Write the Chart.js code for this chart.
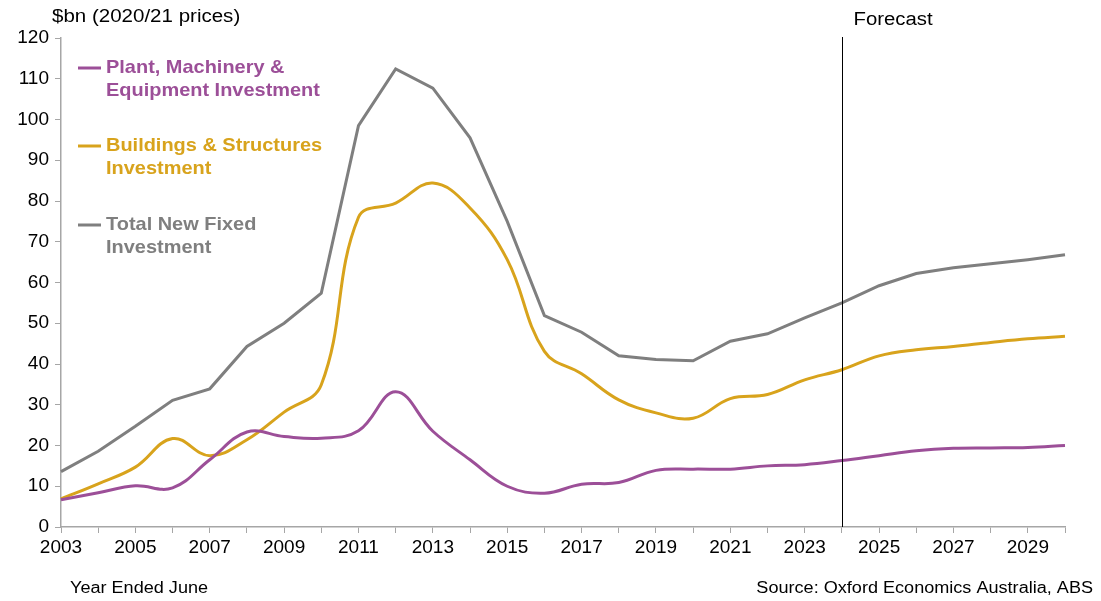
<!DOCTYPE html>
<html>
<head>
<meta charset="utf-8">
<script src="https://cdn.jsdelivr.net/npm/chart.js@4.4.1/dist/chart.umd.min.js"></script>
<style>
  html, body { margin: 0; padding: 0; background: #fff; }
  #wrap { width: 1101px; height: 601px; position: relative; }
</style>
</head>
<body>
<div id="wrap"><canvas id="chart"></canvas></div>
<script>
    const years = ['2003', '2004', '2005', '2006', '2007', '2008', '2009', '2010', '2011', '2012',
        '2013', '2014', '2015', '2016', '2017', '2018', '2019', '2020', '2021', '2022',
        '2023', '2024', '2025', '2026', '2027', '2028', '2029', '2030'];
    const plantValues = [6.7, 8.4, 10.1, 9.6, 16.5, 23.3, 22.2, 21.8, 23.6, 33.2,
        23.5, 16.5, 10.0, 8.3, 10.5, 10.9, 13.9, 14.2, 14.2, 15.0,
        15.3, 16.3, 17.5, 18.7, 19.3, 19.4, 19.5, 20.0];
    const buildingsValues = [6.9, 10.6, 14.7, 21.7, 17.5, 21.4, 28.2, 34.9, 76.0, 79.5,
        84.4, 78.3, 65.6, 43.1, 37.6, 31.2, 28.0, 26.7, 31.5, 32.5,
        36.1, 38.6, 42.0, 43.5, 44.3, 45.3, 46.2, 46.8];
    const totalValues = [13.6, 18.6, 24.7, 31.1, 33.9, 44.3, 50.0, 57.4, 98.5, 112.4,
        107.7, 95.5, 75.0, 51.9, 47.8, 42.0, 41.1, 40.8, 45.6, 47.4,
        51.3, 55.0, 59.2, 62.2, 63.6, 64.6, 65.6, 66.8];
    const legendLines = [
        ['Plant, Machinery &', 'Equipment Investment'],
        ['Buildings & Structures', 'Investment'],
        ['Total New Fixed', 'Investment'],
    ];
    const forecastYear = '2024';

    const purple = '#9C4F98';
    const gold = '#D8A31C';
    const grey = '#7F7F7F';
    const axisColor = '#A6A6A6';
    const font = '"Liberation Sans", Arial, sans-serif';

    // text drawn a little wider, like the original export
    function wideText(ctx, text, x, y, sx) {
        ctx.save();
        ctx.translate(x, y);
        ctx.scale(sx, 1);
        ctx.fillText(text, 0, 0);
        ctx.restore();
    }

    // legend, forecast line and captions drawn straight on the canvas
    const annotations = {
        id: 'annotations',
        afterDatasetsDraw(chart) {
            const ctx = chart.ctx;
            const x = chart.scales.x;
            const area = chart.chartArea;
            ctx.save();

            const fx = Math.round(x.getPixelForValue(years.indexOf(forecastYear))) + 0.5;
            ctx.strokeStyle = '#000';
            ctx.lineWidth = 1;
            ctx.beginPath();
            ctx.moveTo(fx, area.top - 1);
            ctx.lineTo(fx, area.bottom);
            ctx.stroke();

            ctx.fillStyle = '#000';
            ctx.textBaseline = 'middle';
            ctx.font = '18px ' + font;
            ctx.textAlign = 'left';
            wideText(ctx, 'Forecast', fx + 11, 20, 1.13);
            wideText(ctx, '$bn (2020/21 prices)', 52, 17, 1.14);
            ctx.font = '16px ' + font;
            wideText(ctx, 'Year Ended June', 70, 589, 1.13);
            ctx.textAlign = 'right';
            wideText(ctx, 'Source: Oxford Economics Australia, ABS', 1093, 589, 1.13);

            ctx.textAlign = 'left';
            ctx.font = 'bold 19px ' + font;
            const rows = [68, 146, 225];
            chart.data.datasets.forEach((ds, i) => {
                const top = rows[i];
                ctx.strokeStyle = ds.borderColor;
                ctx.lineWidth = 3;
                ctx.beginPath();
                ctx.moveTo(78, top);
                ctx.lineTo(101, top);
                ctx.stroke();
                ctx.fillStyle = ds.borderColor;
                legendLines[i].forEach((t, j) => wideText(ctx, t, 106, top + j * 23, 1.05));
            });
            ctx.restore();
        },
    };

    new Chart(document.getElementById('chart'), {
        type: 'line',
        data: {
            labels: years,
            datasets: [
                {
                    label: 'Plant, Machinery & Equipment Investment',
                    data: plantValues,
                    borderColor: purple,
                    borderWidth: 3,
                    tension: 0.4,
                    pointRadius: 0,
                },
                {
                    label: 'Buildings & Structures Investment',
                    data: buildingsValues,
                    borderColor: gold,
                    borderWidth: 3,
                    tension: 0.4,
                    pointRadius: 0,
                },
                {
                    label: 'Total New Fixed Investment',
                    data: totalValues,
                    borderColor: grey,
                    borderWidth: 3,
                    tension: 0,
                    pointRadius: 0,
                },
            ],
        },
        options: {
            responsive: true,
            maintainAspectRatio: false,
            animation: false,
            layout: { padding: { left: 0, right: 36, top: 38, bottom: 0 } },
            plugins: {
                legend: { display: false },
                tooltip: { enabled: false },
            },
            scales: {
                x: {
                    offset: false,
                    grid: { drawOnChartArea: false, color: axisColor, tickLength: 6 },
                    border: { color: axisColor, width: 1.5 },
                    ticks: {
                        autoSkip: false,
                        maxRotation: 0,
                        color: '#000',
                        padding: 3,
                        font: { family: font, size: 19 },
                        callback: function (v, i) { return i % 2 === 0 ? years[i] : ''; },
                    },
                    afterFit(scale) { scale.height = 74; },
                },
                y: {
                    min: 0,
                    max: 120,
                    grid: { drawOnChartArea: false, color: axisColor, tickLength: 6 },
                    border: { color: axisColor, width: 1.5 },
                    ticks: {
                        stepSize: 10,
                        color: '#000',
                        padding: 6,
                        font: { family: font, size: 19 },
                    },
                    afterFit(scale) { scale.width = 61; },
                },
            },
        },
        plugins: [annotations],
    });
</script>
</body>
</html>
